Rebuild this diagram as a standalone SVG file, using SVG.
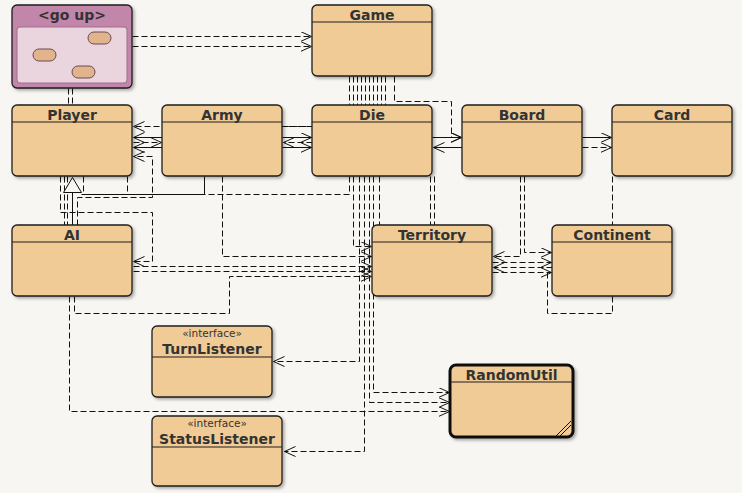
<svg xmlns="http://www.w3.org/2000/svg" width="742" height="493" viewBox="0 0 742 493">
<style>
.bg{fill:#f7f6f2}
.node{fill:#f0cb96;stroke:#1e1e1e;stroke-width:1.3;filter:url(#sh)}
.sep{stroke:#1e1e1e;stroke-width:1.2}
.name{font-family:"DejaVu Sans",sans-serif;font-weight:bold;font-size:14px;fill:#333;text-anchor:middle}
.stereo{font-family:"DejaVu Sans",sans-serif;font-size:10.5px;fill:#333;text-anchor:middle}
.d{fill:none;stroke:#111;stroke-width:1;stroke-dasharray:6,3}
.s{fill:none;stroke:#111;stroke-width:1}
.a{marker-end:url(#arr)}
</style>
<defs>
<filter id="sh" x="-10%" y="-10%" width="130%" height="130%">
<feDropShadow dx="2" dy="2" stdDeviation="1.5" flood-color="#000" flood-opacity="0.3"/>
</filter>
<marker id="arr" markerUnits="userSpaceOnUse" markerWidth="14" markerHeight="12" refX="11" refY="5" orient="auto">
<path d="M0,0 L11,5 L0,10" fill="none" stroke="#111" stroke-width="1"/>
</marker>
</defs>
<rect class="bg" x="0" y="0" width="742" height="493"/>

<g id="connectors" transform="translate(0.5,0.5)">
<path class="d a" d="M132,36 H311"/>
<path class="d a" d="M132,46 H311"/>
<path class="d" d="M68,88 V105 M72,88 V105"/>
<path class="d" d="M349,76 V105 M353,76 V105 M357,76 V105 M361,76 V105 M365,76 V105 M369,76 V105 M373,76 V105 M377,76 V105 M381,76 V105 M385,76 V105"/>
<path class="d a" d="M394,76 V101 H451 V137 H461"/>
<path class="d a" d="M312,126 H133"/>
<path class="s a" d="M162,137 H133"/>
<path class="d a" d="M133,142 H161"/>
<path class="s a" d="M162,147 H133"/>
<path class="d a" d="M77,225 V197 H152 V156 H133"/>
<path class="d" d="M282,126 H312"/>
<path class="s a" d="M282,137 H311"/>
<path class="d a" d="M312,142 H283"/>
<path class="s a" d="M282,147 H311"/>
<path class="s a" d="M432,137 H461"/>
<path class="s a" d="M462,147 H433"/>
<path class="s a" d="M582,137 H611"/>
<path class="d a" d="M582,147 H611"/>
<path class="d a" d="M60,176 V212 H152 V261 H133"/>
<path class="d" d="M64,176 V225 M67,176 V225"/>
<path class="d" d="M83,176 V194"/>
<path class="s" d="M72,225 V192"/>
<path class="s" d="M204,176 V194 H81"/>
<path d="M72,177 L81,192 L63,192 Z" fill="#f7f6f2" stroke="#111" stroke-width="1"/>
<path class="d" d="M349,176 V194 H204 M127,176 V194 H204"/>
<path class="d a" d="M222,176 V256 H371"/>
<path class="d a" d="M353,176 V246 H371"/>
<path class="d a" d="M359,176 V361 H273"/>
<path class="d a" d="M364,176 V451 H284"/>
<path class="d a" d="M369,176 V402 H449"/>
<path class="d a" d="M373,176 V392 H449"/>
<path class="d" d="M379,176 V225 M430,176 V225 M434,176 V225"/>
<path class="d a" d="M520,176 V256 H493"/>
<path class="d a" d="M524,176 V252 H551"/>
<path class="d a" d="M492,262 H551"/>
<path class="d a" d="M552,267 H493"/>
<path class="d a" d="M492,272 H551"/>
<path class="d" d="M612,296 V313 H547 V272"/>
<path class="d" d="M612,176 V225"/>
<path class="d a" d="M133,266 H371"/>
<path class="d a" d="M133,271 H371"/>
<path class="d a" d="M69,296 V411 H449"/>
<path class="d a" d="M74,296 V313 H229 V276 H371"/>
</g>

<g id="goup">
<rect x="12" y="5" width="120" height="83" rx="5" fill="#c286ab" stroke="#1e1e1e" stroke-width="1.3" filter="url(#sh)"/>
<text class="name" x="72" y="20">&lt;go up&gt;</text>
<rect x="17" y="27" width="110" height="56" rx="3" fill="#ead5df" stroke="#a26c8c" stroke-width="1"/>
<rect x="88" y="32" width="23" height="12" rx="6" fill="#e2b48c" stroke="#6a4a55" stroke-width="1"/>
<rect x="33" y="49" width="23" height="12" rx="6" fill="#e2b48c" stroke="#6a4a55" stroke-width="1"/>
<rect x="72" y="66" width="23" height="12" rx="6" fill="#e2b48c" stroke="#6a4a55" stroke-width="1"/>
</g>

<g id="Game"><rect class="node" x="312" y="5" width="120" height="71" rx="5"/><line class="sep" x1="312" y1="22" x2="432" y2="22"/><text class="name" x="372" y="19.5">Game</text></g>
<g id="Player"><rect class="node" x="12" y="105" width="120" height="71" rx="5"/><line class="sep" x1="12" y1="122" x2="132" y2="122"/><text class="name" x="72" y="119.5">Player</text></g>
<g id="Army"><rect class="node" x="162" y="105" width="120" height="71" rx="5"/><line class="sep" x1="162" y1="122" x2="282" y2="122"/><text class="name" x="222" y="119.5">Army</text></g>
<g id="Die"><rect class="node" x="312" y="105" width="120" height="71" rx="5"/><line class="sep" x1="312" y1="122" x2="432" y2="122"/><text class="name" x="372" y="119.5">Die</text></g>
<g id="Board"><rect class="node" x="462" y="105" width="120" height="71" rx="5"/><line class="sep" x1="462" y1="122" x2="582" y2="122"/><text class="name" x="522" y="119.5">Board</text></g>
<g id="Card"><rect class="node" x="612" y="105" width="120" height="71" rx="5"/><line class="sep" x1="612" y1="122" x2="732" y2="122"/><text class="name" x="672" y="119.5">Card</text></g>
<g id="AI"><rect class="node" x="12" y="225" width="120" height="71" rx="5"/><line class="sep" x1="12" y1="242" x2="132" y2="242"/><text class="name" x="72" y="239.5">AI</text></g>
<g id="Territory"><rect class="node" x="372" y="225" width="120" height="71" rx="5"/><line class="sep" x1="372" y1="242" x2="492" y2="242"/><text class="name" x="432" y="239.5">Territory</text></g>
<g id="Continent"><rect class="node" x="552" y="225" width="120" height="71" rx="5"/><line class="sep" x1="552" y1="242" x2="672" y2="242"/><text class="name" x="612" y="239.5">Continent</text></g>
<g id="TurnListener"><rect class="node" x="152" y="326" width="120" height="71" rx="5"/><line class="sep" x1="152" y1="357" x2="272" y2="357"/><text class="stereo" x="212" y="337">«interface»</text><text class="name" x="212" y="353.5">TurnListener</text></g>
<g id="StatusListener"><rect class="node" x="152" y="416" width="130" height="70" rx="5"/><line class="sep" x1="152" y1="447" x2="282" y2="447"/><text class="stereo" x="217" y="427">«interface»</text><text class="name" x="217" y="443.5">StatusListener</text></g>
<g id="RandomUtil"><rect x="450" y="365" width="123" height="72" rx="6" fill="#f0cb96" stroke="#111" stroke-width="3" filter="url(#sh)"/><line class="sep" x1="450" y1="382" x2="573" y2="382"/><text class="name" x="511.5" y="379.5">RandomUtil</text><path d="M556,436 L571,421 M560,436 L571,425" stroke="#111" stroke-width="1" fill="none"/></g>
</svg>
